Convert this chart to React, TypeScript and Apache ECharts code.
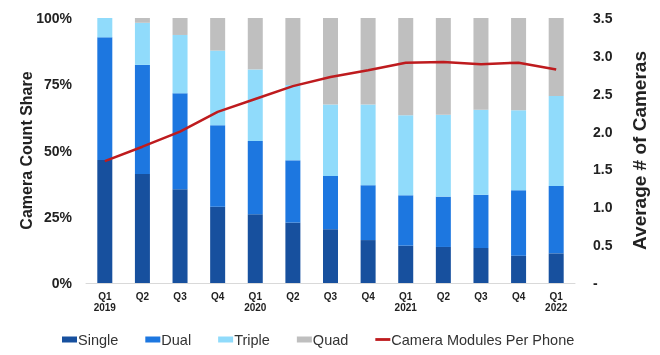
import React, { useEffect, useRef } from "react";
import * as echarts from "echarts";

const categories = ["Q1\n2019", "Q2", "Q3", "Q4", "Q1\n2020", "Q2", "Q3", "Q4", "Q1\n2021", "Q2", "Q3", "Q4", "Q1\n2022"];
const single = [46.4, 41.1, 35.4, 28.8, 25.9, 22.8, 20.3, 16.2, 14.1, 13.6, 13.2, 10.3, 11.2];
const dual = [46.3, 41.2, 36.2, 30.7, 27.7, 23.5, 20.1, 20.7, 19.0, 19.0, 20.1, 24.7, 25.4];
const triple = [7.3, 15.9, 22.0, 28.2, 27.0, 28.4, 27.0, 30.5, 30.2, 30.9, 32.1, 30.2, 34.0];
const quad = [0.0, 1.8, 6.4, 12.3, 19.4, 25.3, 32.6, 32.6, 36.7, 36.5, 34.6, 34.8, 29.4];
const modulesPerPhone = [1.61, 1.8, 2.0, 2.26, 2.43, 2.6, 2.72, 2.81, 2.91, 2.92, 2.89, 2.91, 2.82];

const FONT = "Liberation Sans, Arial, sans-serif";
const RED = "#BE1B1E";

export default function App() {
  const ref = useRef<HTMLDivElement>(null);
  useEffect(() => {
    if (!ref.current) return;
    const chart = echarts.init(ref.current, null, { renderer: "svg" });
    const barBase = {
      type: "bar" as const,
      stack: "share",
      barWidth: 15,
      yAxisIndex: 0,
    };
    chart.setOption({
      animation: false,
      textStyle: { fontFamily: FONT },
      grid: { left: 86, right: 85, top: 18, bottom: 72 },
      legend: {
        top: 327,
        left: 57,
        itemWidth: 15,
        itemHeight: 6,
        itemGap: 27,
        textStyle: { fontSize: 14.5, color: "#333", fontFamily: FONT, padding: [0, 0, 0, -4] },
        data: [
          { name: "Single", icon: "rect" },
          { name: "Dual", icon: "rect" },
          { name: "Triple", icon: "rect" },
          { name: "Quad", icon: "rect" },
          { name: "Camera Modules Per Phone", icon: "path://M0,0h16v3h-16z", itemStyle: { color: RED } },
        ],
      },
      xAxis: {
        type: "category",
        data: categories,
        axisLine: { show: true, lineStyle: { color: "#d9d9d9" } },
        axisTick: { show: false },
        axisLabel: { fontSize: 10, fontWeight: "bold", color: "#222", margin: 8, lineHeight: 11, interval: 0 },
      },
      yAxis: [
        {
          type: "value",
          min: 0,
          max: 100,
          interval: 25,
          name: "Camera Count Share",
          nameLocation: "middle",
          nameGap: 52,
          nameMoveOverlap: false,
          nameTextStyle: { fontSize: 16, fontWeight: "bold", color: "#222" },
          splitLine: { show: false },
          axisLine: { show: false },
          axisTick: { show: false },
          axisLabel: { formatter: "{value}%", fontSize: 14, fontWeight: "bold", color: "#222", margin: 14 },
        },
        {
          type: "value",
          min: 0,
          max: 3.5,
          interval: 0.5,
          position: "right",
          name: "Average # of Cameras",
          nameLocation: "middle",
          nameGap: 55,
          nameMoveOverlap: false,
          nameRotate: 90,
          nameTextStyle: { fontSize: 19, fontWeight: "bold", color: "#222" },
          splitLine: { show: false },
          axisLine: { show: false },
          axisTick: { show: false },
          axisLabel: {
            formatter: (v: number) => (v === 0 ? "-" : v.toFixed(1)),
            fontSize: 14,
            fontWeight: "bold",
            color: "#222",
            margin: 18,
          },
        },
      ],
      series: [
        { ...barBase, name: "Single", data: single, itemStyle: { color: "#17509E" } },
        { ...barBase, name: "Dual", data: dual, itemStyle: { color: "#1D77E0" } },
        { ...barBase, name: "Triple", data: triple, itemStyle: { color: "#90DBFB" } },
        { ...barBase, name: "Quad", data: quad, itemStyle: { color: "#BFBFBF" } },
        {
          type: "line",
          name: "Camera Modules Per Phone",
          yAxisIndex: 1,
          data: modulesPerPhone,
          symbol: "none",
          smooth: false,
          lineStyle: { color: RED, width: 2.5 },
          itemStyle: { color: RED },
        },
      ],
    });
    return () => chart.dispose();
  }, []);
  return <div ref={ref} style={{ position: "fixed", left: 0, top: 0, width: 660, height: 355 }} />;
}
